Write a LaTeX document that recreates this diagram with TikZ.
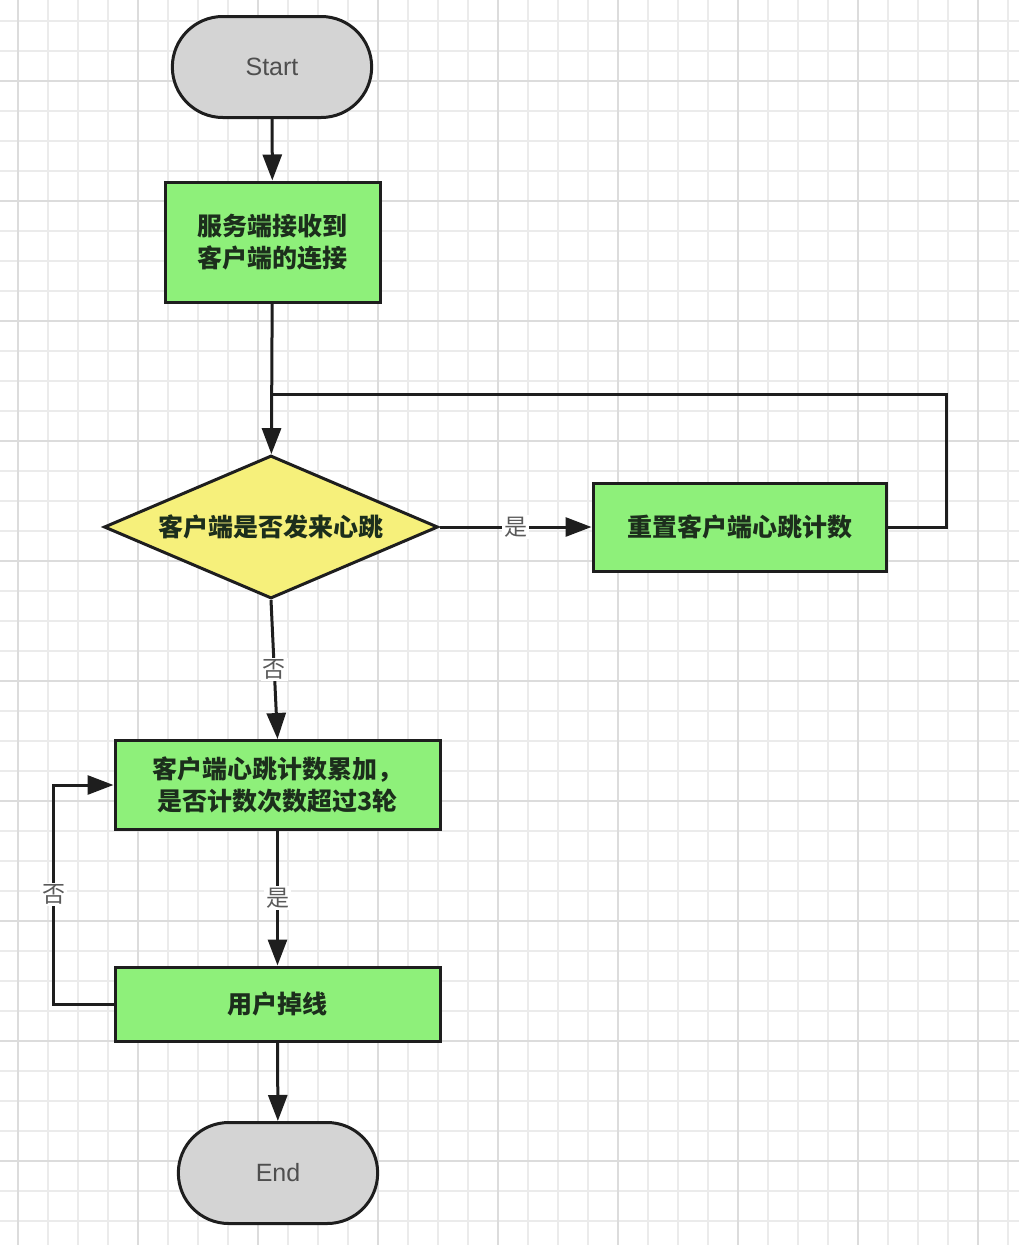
\documentclass[tikz,border=0pt]{standalone}
\usepackage{fontspec}
\setsansfont{Liberation Sans}
\newfontfamily\cjk{Noto Sans CJK SC}
\usetikzlibrary{shapes.geometric,shapes.misc,arrows.meta}

\definecolor{linedark}{HTML}{1E1E1E}
\definecolor{boxgreen}{HTML}{8EF07A}
\definecolor{boxyellow}{HTML}{F6F07B}
\definecolor{termgray}{HTML}{D4D4D4}
\definecolor{termtext}{HTML}{4E4E4E}
\definecolor{boxtext}{HTML}{1C2E1C}
\definecolor{labelgray}{HTML}{5A5A5A}
\definecolor{gridminor}{HTML}{EBEBEB}
\definecolor{gridmajor}{HTML}{DCDCDC}

\begin{document}
\begin{tikzpicture}[x=1pt,y=-1pt,>={Triangle[length=26pt,width=19pt]},
      flow/.style={->,line width=3pt,draw=linedark},
      line/.style={line width=3pt,draw=linedark},
      term node/.style={rounded rectangle,draw=linedark,line width=3pt,fill=termgray,
        minimum width=206pt,minimum height=101pt,text=termtext,
        font=\sffamily\fontsize{25}{30}\selectfont},
      step node/.style={rectangle,draw=linedark,line width=3pt,fill=boxgreen,
        text=boxtext,align=center,font=\cjk\bfseries\fontsize{25}{32}\selectfont},
      ask node/.style={diamond,draw=linedark,line width=3pt,fill=boxyellow,
        aspect=2.34,inner sep=0pt,minimum width=334pt,minimum height=143pt,
        text=boxtext,font=\cjk\bfseries\fontsize{25}{32}\selectfont},
      lbl/.style={fill=white,text=labelgray,inner sep=2pt,
        font=\cjk\fontsize{23}{26}\selectfont}]

      \useasboundingbox (0,0) rectangle (1019,1245);
      \fill[white] (0,0) rectangle (1019,1245);

      % background grid
      \foreach \x in {18,48,...,1008} \draw[gridminor,line width=2pt] (\x,0) -- (\x,1245);
      \foreach \y in {21,51,...,1221} \draw[gridminor,line width=2pt] (0,\y) -- (1019,\y);
      \foreach \x in {18,138,...,978} \draw[gridmajor,line width=2pt] (\x,0) -- (\x,1245);
      \foreach \y in {81,201,...,1161} \draw[gridmajor,line width=2pt] (0,\y) -- (1019,\y);

      \node[term node] (start) at (272,67) {Start};
      \node[step node, minimum width=215pt, minimum height=120pt] (accept) at (272.5,242) {服务端接收到\\客户端的连接};
      \node[ask node] (beat) at (271,527) {客户端是否发来心跳};
      \node[step node, minimum width=293pt, minimum height=88pt] (reset) at (739.5,527) {重置客户端心跳计数};
      \node[step node, minimum width=325pt, minimum height=89pt] (count) at (277.5,785) {客户端心跳计数累加，\\是否计数次数超过3轮};
      \node[step node, minimum width=325pt, minimum height=74pt] (drop) at (277.5,1004) {用户掉线};
      \node[term node] (end) at (278,1173) {End};

      \coordinate (join) at (accept.south |- 0,394);

      \draw[flow] (start) -- (accept);
      \draw[flow] (accept) -- (beat);
      \draw[line] (reset.east) -- ++(59,0) |- (join);
      \draw[flow] (beat) -- node[lbl] {是} (reset);
      \draw[flow] (beat.south) -- node[lbl, pos=0.5] {否} (count.north);
      \draw[flow] (count) -- node[lbl] {是} (drop);
      \draw[flow] (drop.west) -- ++(-60,0) |- node[lbl, pos=0.25] {否} (count.west);
      \draw[flow] (drop) -- (end);
    \end{tikzpicture}
\end{document}
